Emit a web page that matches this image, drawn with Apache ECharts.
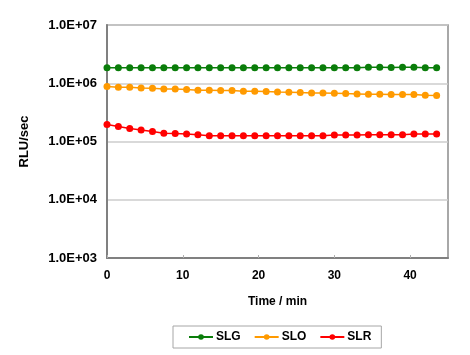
<!DOCTYPE html>
<html><head><meta charset="utf-8">
<script src="https://cdn.jsdelivr.net/npm/echarts@6/dist/echarts.min.js"></script>
<style>html,body{margin:0;padding:0;background:#fff}#c{width:470px;height:355px}</style>
</head><body><div id="c"></div>
<script>
var times = [0,1.5,3,4.5,6,7.5,9,10.5,12,13.5,15,16.5,18,19.5,21,22.5,24,25.5,27,28.5,30,31.5,33,34.5,36,37.5,39,40.5,42,43.5];
var slg = [1.85e6,1.85e6,1.85e6,1.85e6,1.85e6,1.85e6,1.85e6,1.85e6,1.84e6,1.84e6,1.84e6,1.84e6,1.84e6,1.84e6,1.84e6,1.84e6,1.84e6,1.84e6,1.84e6,1.84e6,1.84e6,1.84e6,1.84e6,1.88e6,1.88e6,1.86e6,1.88e6,1.88e6,1.84e6,1.84e6];
var slo = [8.76e5,8.55e5,8.55e5,8.32e5,8.22e5,8.0e5,8.0e5,7.78e5,7.6e5,7.6e5,7.48e5,7.48e5,7.3e5,7.3e5,7.19e5,7.1e5,7.02e5,6.91e5,6.83e5,6.83e5,6.75e5,6.64e5,6.56e5,6.48e5,6.48e5,6.38e5,6.38e5,6.38e5,6.23e5,6.14e5];
var slr = [1.95e5,1.81e5,1.67e5,1.58e5,1.48e5,1.39e5,1.37e5,1.34e5,1.30e5,1.25e5,1.25e5,1.25e5,1.25e5,1.25e5,1.25e5,1.26e5,1.25e5,1.25e5,1.25e5,1.25e5,1.29e5,1.29e5,1.29e5,1.31e5,1.31e5,1.31e5,1.31e5,1.35e5,1.35e5,1.35e5];
var names = ['SLG','SLO','SLR'];
var colors = ['#0a7d0a','#ff9a00','#ff0000'];

function pairs(ys){ return times.map(function(t,i){return [t, ys[i]];}); }
function fmtE(v){
  var e = Math.round(Math.log10(v));
  var m = v/Math.pow(10,e);
  var s = (e<0?'-':'+') + (Math.abs(e)<10?'0':'') + Math.abs(e);
  return m.toFixed(1) + 'E' + s;
}
var font = 'Arial, "Liberation Sans", sans-serif';
var chart = echarts.init(document.getElementById('c'));
var allData = [slg, slo, slr];
chart.setOption({
  animation:false,
  backgroundColor:'#fff',
  grid:{left:107, top:25, right:22, bottom:97, show:true, borderColor:'#8c8c8c', borderWidth:1.5, backgroundColor:'transparent'},
  legend:{
    left:173, top:326, orient:'horizontal',
    padding:[5,10,5,15], itemGap:13, itemWidth:24, itemHeight:7,
    borderColor:'#a6a6a6', borderWidth:1,
    textStyle:{fontFamily:font, fontWeight:'bold', fontSize:12, color:'#000', padding:[0,0,0,-2]},
    data:names
  },
  xAxis:{
    type:'value', min:0, max:45, interval:10,
    name:'Time / min', nameLocation:'middle', nameGap:38,
    nameTextStyle:{fontFamily:font, fontWeight:'bold', fontSize:12, color:'#000'},
    axisLine:{show:true, lineStyle:{color:'#808080', width:2}},
    axisTick:{show:true, inside:true, length:3, lineStyle:{color:'#b0b0b0'}},
    axisLabel:{fontFamily:font, fontWeight:'bold', fontSize:12, color:'#000', margin:12, showMaxLabel:false},
    splitLine:{show:false}
  },
  yAxis:{
    type:'log', logBase:10, min:1e3, max:1e7,
    name:'RLU/sec', nameLocation:'middle', nameGap:76, nameRotate:90,
    nameTextStyle:{fontFamily:font, fontWeight:'bold', fontSize:13, color:'#000'},
    axisLine:{show:true, lineStyle:{color:'#808080', width:2}},
    axisTick:{show:false},
    axisLabel:{fontFamily:font, fontWeight:'bold', fontSize:13, color:'#000', margin:10, formatter:fmtE},
    splitLine:{show:true, lineStyle:{color:'#cccccc', width:1.5}}
  },
  series: names.map(function(n,i){
    return {
      name:n, type:'line', data:pairs(allData[i]),
      symbol:'circle', symbolSize:7, showSymbol:true,
      lineStyle:{color:colors[i], width:1.5},
      itemStyle:{color:colors[i]}
    };
  })
});
</script></body></html>
